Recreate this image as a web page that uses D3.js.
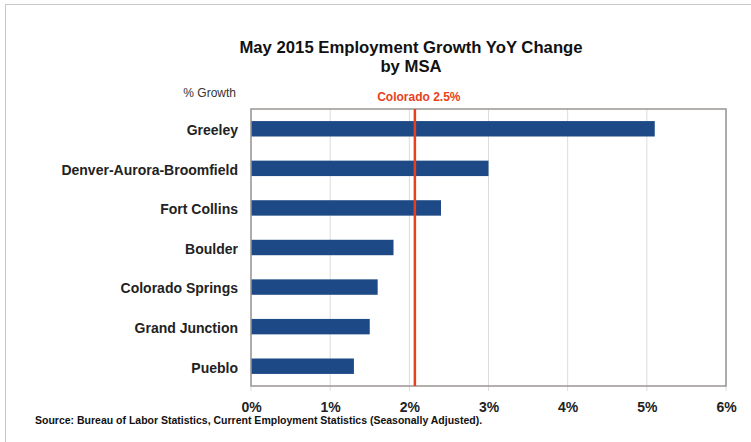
<!DOCTYPE html>
<html><head><meta charset="utf-8">
<script src="https://cdn.jsdelivr.net/npm/d3@7"></script>
<style>body{margin:0;background:#fff}svg{display:block}</style>
</head><body>
<script>
const categories = ["Greeley","Denver-Aurora-Broomfield","Fort Collins","Boulder","Colorado Springs","Grand Junction","Pueblo"];
const growth = [5.1, 3.0, 2.4, 1.8, 1.6, 1.5, 1.3];
const tickValues = [0,1,2,3,4,5,6];
const refValue = 2.07;
const refLabel = "Colorado 2.5%";
const title1 = "May 2015 Employment Growth YoY Change";
const title2 = "by MSA";
const axisLabel = "% Growth";
const source = "Source: Bureau of Labor Statistics, Current Employment Statistics (Seasonally Adjusted).";

const W = 751, H = 442;
const sans = "'Liberation Sans',Arial,sans-serif";
const svg = d3.select("body").append("svg").attr("width", W).attr("height", H);

svg.append("rect").attr("x",5.5).attr("y",4.5).attr("width",W+10).attr("height",H+10)
  .attr("fill","#fff").attr("stroke","#c8c8c8");

const m = {l:251, r:726, t:109, b:386};
const x = d3.scaleLinear().domain([0,6]).range([m.l, m.r]);
const y = d3.scaleBand().domain(categories).range([m.t, m.b]).paddingInner(0.61).paddingOuter(0.305);

// gridlines
svg.append("g").selectAll("line").data(tickValues).join("line")
  .attr("x1", d=>x(d)).attr("x2", d=>x(d)).attr("y1", m.t).attr("y2", m.b+5)
  .attr("stroke","#dcdcdc").attr("stroke-width",1);

// bars
svg.append("g").selectAll("rect").data(categories).join("rect")
  .attr("x", x(0)).attr("y", d=>y(d)).attr("height", y.bandwidth())
  .attr("width", (d,i)=>x(growth[i])-x(0)).attr("fill","#1d4a86");

// plot border
svg.append("rect").attr("x",m.l).attr("y",m.t).attr("width",m.r-m.l).attr("height",m.b-m.t)
  .attr("fill","none").attr("stroke","#9a9593").attr("stroke-width",1.5);

// reference line
svg.append("line").attr("x1",x(refValue)).attr("x2",x(refValue)).attr("y1",m.t).attr("y2",m.b)
  .attr("stroke","#e8401c").attr("stroke-width",2.5);
svg.append("text").attr("x",x(refValue)+4).attr("y",101).attr("text-anchor","middle")
  .attr("font-family",sans).attr("font-weight","bold").attr("font-size",12)
  .attr("fill","#e8401c").text(refLabel);

// x axis
const xAxis = d3.axisBottom(x).tickValues(tickValues).tickFormat(d=>d+"%").tickSize(0).tickPadding(16);
const gx = svg.append("g").attr("transform",`translate(0,${m.b})`).call(xAxis);
gx.select(".domain").remove();
gx.selectAll("text").attr("font-family",sans).attr("font-weight","bold").attr("font-size",14).attr("fill","#222");

// y axis
const yAxis = d3.axisLeft(y).tickSize(0).tickPadding(13);
const gy = svg.append("g").attr("transform",`translate(${m.l},0)`).call(yAxis);
gy.select(".domain").remove();
gy.selectAll("text").attr("font-family",sans).attr("font-weight","bold").attr("font-size",14)
  .attr("dy","0.45em").attr("fill","#222");

// titles
svg.append("text").attr("x",411).attr("y",52.5).attr("text-anchor","middle")
  .attr("font-family",sans).attr("font-weight","bold").attr("font-size",16.7).attr("fill","#111").text(title1);
svg.append("text").attr("x",411).attr("y",71.5).attr("text-anchor","middle")
  .attr("font-family",sans).attr("font-weight","bold").attr("font-size",16.7).attr("fill","#111").text(title2);

svg.append("text").attr("x",236).attr("y",97).attr("text-anchor","end")
  .attr("font-family",sans).attr("font-size",12).attr("fill","#333").text(axisLabel);

svg.append("text").attr("x",35).attr("y",424)
  .attr("font-family",sans).attr("font-weight","bold").attr("font-size",10.5).attr("fill","#111").text(source);
</script>
</body></html>
